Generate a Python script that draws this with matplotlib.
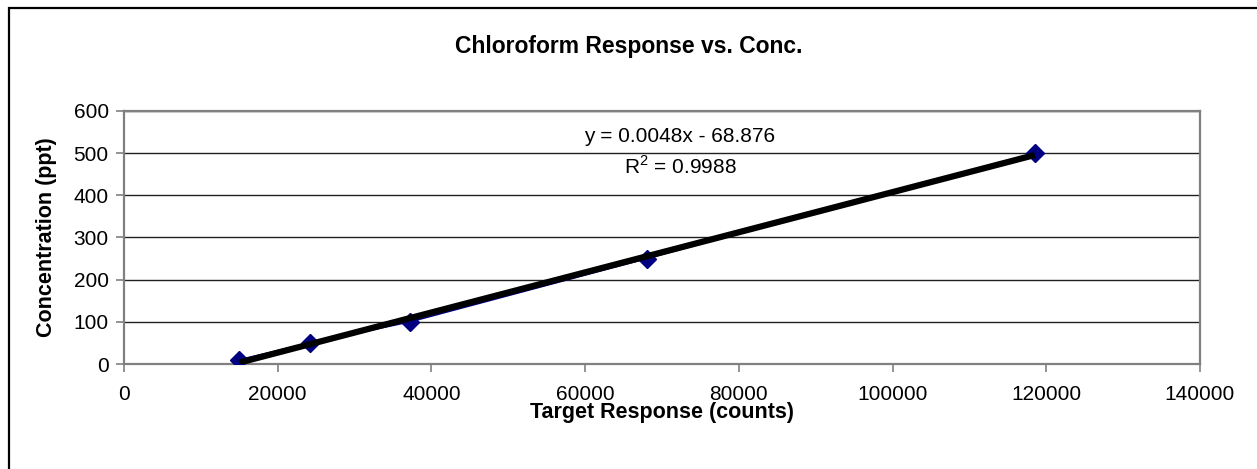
import numpy as np
import matplotlib
matplotlib.use("Agg")
import matplotlib.pyplot as plt
from matplotlib.patches import Rectangle

# Data
response_counts = [15000, 24200, 37200, 68000, 118500]
concentration_ppt = [10, 50, 100, 250, 500]
x_ticks = [0, 20000, 40000, 60000, 80000, 100000, 120000, 140000]
y_ticks = [0, 100, 200, 300, 400, 500, 600]
title = "Chloroform Response vs. Conc."
x_label = "Target Response (counts)"
y_label = "Concentration (ppt)"
eq_text = "y = 0.0048x - 68.876"
r2_text = "R$^2$ = 0.9988"

plt.rcParams['font.family'] = ['Liberation Sans', 'DejaVu Sans']
plt.rcParams['mathtext.fontset'] = 'custom'
plt.rcParams['mathtext.rm'] = 'Liberation Sans'

W, H = 1257, 469
fig = plt.figure(figsize=(W / 100, H / 100), dpi=100)
ax = fig.add_axes([124 / W, 1 - 364 / H, (1200 - 124) / W, (364 - 111) / H])

# outer chart border
fig.patches.append(Rectangle((9 / W, -0.1), 1.2, 1 - 8 / H + 0.1, transform=fig.transFigure,
                             fill=False, edgecolor='black', linewidth=1.6))

ax.set_xlim(0, 140000)
ax.set_ylim(0, 600)
ax.set_xticks(x_ticks)
ax.set_yticks(y_ticks)
ax.set_xticklabels([str(t) for t in x_ticks])
ax.set_yticklabels([str(t) for t in y_ticks])
ax.tick_params(axis='both', direction='out', length=6, width=1.2, color='#808080',
               labelsize=15, labelcolor='black')
ax.tick_params(axis='x', pad=9)
ax.tick_params(axis='y', pad=5)

for s in ax.spines.values():
    s.set_color('#808080')
    s.set_linewidth(1.6)

ax.grid(axis='y', color='#202020', linewidth=1.0)
ax.set_axisbelow(True)

# data series
ax.plot(response_counts, concentration_ppt, color='#000080', linewidth=1.2,
        marker='D', markersize=9, markerfacecolor='#000080', markeredgecolor='#000080', zorder=3)

# linear trendline
coef = np.polyfit(response_counts, concentration_ppt, 1)
xs = np.array([min(response_counts), max(response_counts)])
ax.plot(xs, np.polyval(coef, xs), color='black', linewidth=4.5, solid_capstyle='butt', zorder=4)

ax.text(680 / W, 1 - 137 / H, eq_text, transform=fig.transFigure, ha='center', va='center', fontsize=15)
ax.text(680 / W, 1 - 167 / H, r2_text, transform=fig.transFigure, ha='center', va='center', fontsize=15)

fig.text(629 / W, 1 - 46 / H, title, ha='center', va='center', fontsize=16.5, fontweight='bold')
fig.text(662 / W, 1 - 412 / H, x_label, ha='center', va='center', fontsize=15.5, fontweight='bold')
fig.text(47 / W, 1 - 237 / H, y_label, ha='center', va='center', fontsize=15.5, fontweight='bold',
         rotation=90)

fig.savefig("out.png", dpi=100, facecolor='white')
